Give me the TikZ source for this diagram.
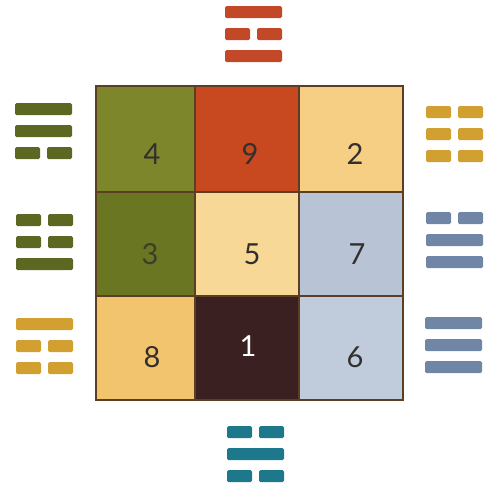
\documentclass[tikz,border=0pt]{standalone}
\usepackage{fontspec}
\setmainfont{Lato}
\definecolor{cOlive}{RGB}{126,134,44}
\definecolor{cOliveD}{RGB}{106,118,34}
\definecolor{cRed}{RGB}{200,72,32}
\definecolor{cPeach}{RGB}{246,206,132}
\definecolor{cPale}{RGB}{247,216,150}
\definecolor{cBlue}{RGB}{184,196,214}
\definecolor{cBlueL}{RGB}{192,203,220}
\definecolor{cGold}{RGB}{243,196,110}
\definecolor{cDark}{RGB}{58,32,32}
\definecolor{cEdge}{RGB}{92,62,36}
\definecolor{tRed}{RGB}{194,72,40}
\definecolor{tOlive}{RGB}{92,104,34}
\definecolor{tGold}{RGB}{210,160,48}
\definecolor{tBlue}{RGB}{112,134,166}
\definecolor{tTeal}{RGB}{30,120,140}
\definecolor{tNum}{RGB}{50,48,44}
\tikzset{
  cell/.style={draw=cEdge, line width=2pt},
  num/.style={font=\fontsize{29}{29}\selectfont, text=tNum, inner sep=0pt},
  bar/.style={rounded corners=1.5pt}
}
% \tri{xleft}{ytop}{colour}{a}{b}{c}: 1 = solid line, 0 = broken line
\newcommand\tri[6]{%
  \foreach \k/\v in {0/#4,1/#5,2/#6}{%
    \pgfmathsetmacro\yy{#2+22*\k}%
    \ifnum\v=1
      \fill[#3,bar] (#1,\yy) rectangle ++(57,12);
    \else
      \fill[#3,bar] (#1,\yy) rectangle ++(25,12);
      \fill[#3,bar] (#1+32,\yy) rectangle ++(25,12);
    \fi
  }%
}
\begin{document}
\begin{tikzpicture}[x=1pt,y=-1pt]
\useasboundingbox (0,0) rectangle (487,488);
% cells
\draw[cell, fill=cOlive]  (96,86)  rectangle (195,192);
\draw[cell, fill=cRed]    (195,86) rectangle (299,192);
\draw[cell, fill=cPeach]  (299,86) rectangle (403,192);
\draw[cell, fill=cOliveD] (96,192) rectangle (195,296);
\draw[cell, fill=cPale]   (195,192) rectangle (299,296);
\draw[cell, fill=cBlue]   (299,192) rectangle (403,296);
\draw[cell, fill=cGold]   (96,296) rectangle (195,400);
\draw[cell, fill=cDark]   (195,296) rectangle (299,400);
\draw[cell, fill=cBlueL]  (299,296) rectangle (403,400);
% numbers
\node[num] (n4) at (152,154) {4};
\node[num] (n9) at (250,154) {9};
\node[num] (n2) at (355,154) {2};
\node[num, text=tNum!80!cOliveD] (n3) at (150,254) {3};
\node[num] (n5) at (252,254) {5};
\node[num] (n7) at (357,254) {7};
\node[num] (n8) at (152,357) {8};
\node[num, text=white] (n1) at (248,346) {1};
\node[num] (n6) at (355,357) {6};
% trigrams
\tri{225}{6}{tRed}{1}{0}{1}
\tri{15}{103}{tOlive}{1}{1}{0}
\tri{16}{214}{tOlive}{0}{0}{1}
\tri{16}{318}{tGold}{1}{0}{0}
\tri{426}{106}{tGold}{0}{0}{0}
\tri{426}{212}{tBlue}{0}{1}{1}
\tri{425}{317}{tBlue}{1}{1}{1}
\tri{227}{426}{tTeal}{0}{1}{0}
\end{tikzpicture}
\end{document}
